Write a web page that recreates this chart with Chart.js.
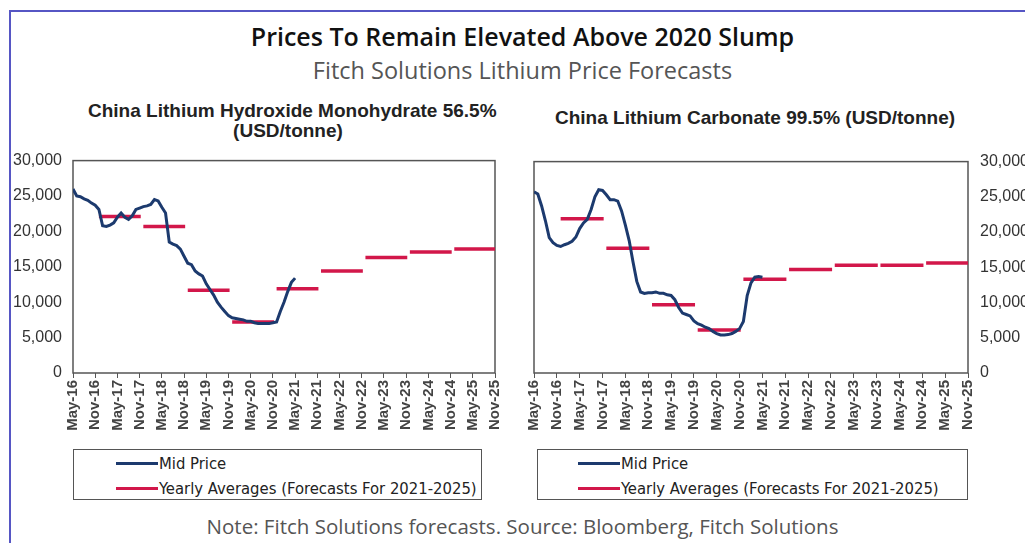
<!DOCTYPE html>
<html>
<head>
<meta charset="utf-8">
<script src="https://cdn.jsdelivr.net/npm/chart.js@4.4.0/dist/chart.umd.min.js"></script>
<style>
    body { margin: 0; width: 1025px; height: 543px; background: #fff; overflow: hidden; position: relative; font-family: 'Liberation Sans', Arial, sans-serif; }
    .frame { position: absolute; left: 9px; top: 10px; width: 1040px; height: 560px; border-left: 2px solid #5656c4; border-top: 2px solid #5656c4; }
    .title { position: absolute; left: 0; width: 1045px; top: 19px; line-height: 34px; text-align: center; font: 600 25px 'Open Sans', sans-serif; color: #111; }
    .subtitle { position: absolute; left: 0; width: 1045px; top: 54px; line-height: 32px; text-align: center; font: 400 23.5px 'Open Sans', sans-serif; color: #555; }
    .note { position: absolute; left: 0; width: 1045px; top: 512px; line-height: 30px; text-align: center; font: 400 20.5px 'Open Sans', sans-serif; color: #555; }
    .ctitle { position: absolute; text-align: center; font: bold 19px 'Liberation Sans', Arial, sans-serif; line-height: 20px; color: #222; white-space: nowrap; }
    canvas { position: absolute; }
    .legend { position: absolute; top: 449px; height: 51px; border: 1.5px solid #555; box-sizing: border-box; font: 16.5px 'Liberation Sans Narrow', 'DejaVu Sans Condensed', Arial, sans-serif; color: #222; }
    .legend .row { position: absolute; display: flex; align-items: center; height: 18px; white-space: nowrap; }
    .legend .swatch { width: 42px; height: 3px; margin-right: 1px; }
</style>
</head>
<body>
<div class="frame"></div>
<div class="title">Prices To Remain Elevated Above 2020 Slump</div>
<div class="subtitle">Fitch Solutions Lithium Price Forecasts</div>

<div class="ctitle" style="left:88px; width:400px; top:101px;">China Lithium Hydroxide Monohydrate 56.5%<br>(USD/tonne)</div>
<div class="ctitle" style="left:555px; width:400px; top:108px;">China Lithium Carbonate 99.5% (USD/tonne)</div>

<canvas id="hydroxideChart" style="left:0; top:140px;" width="515" height="305"></canvas>
<canvas id="carbonateChart" style="left:520px; top:140px;" width="505" height="305"></canvas>

<div class="legend" style="left:73px; width:409px;">
    <div class="row" style="left:42px; top:4px;"><div class="swatch" style="background:#1c3a6e"></div>Mid Price</div>
    <div class="row" style="left:42px; top:29px;"><div class="swatch" style="background:#d2174a"></div>Yearly Averages (Forecasts For 2021-2025)</div>
</div>
<div class="legend" style="left:537px; width:431px;">
    <div class="row" style="left:40px; top:4px;"><div class="swatch" style="background:#1c3a6e"></div>Mid Price</div>
    <div class="row" style="left:40px; top:29px;"><div class="swatch" style="background:#d2174a"></div>Yearly Averages (Forecasts For 2021-2025)</div>
</div>

<div class="note">Note: Fitch Solutions forecasts. Source: Bloomberg, Fitch Solutions</div>

<script>
/* Fitch lithium price charts - monthly index 0 = May-16 */

const TICK_LABELS = [
    'May-16', 'Nov-16', 'May-17', 'Nov-17', 'May-18', 'Nov-18', 'May-19', 'Nov-19', 'May-20', 'Nov-20',
    'May-21', 'Nov-21', 'May-22', 'Nov-22', 'May-23', 'Nov-23', 'May-24', 'Nov-24', 'May-25', 'Nov-25',
];

const YEARS = [2017, 2018, 2019, 2020, 2021, 2022, 2023, 2024, 2025];

// monthly mid price, May-16 .. May-21
const HYDROXIDE_MID = [
    26000, 25000, 24900, 24600, 24400, 24000, 23700, 23100, 20800, 20700,
    20900, 21200, 22000, 22600, 22000, 21700, 22200, 23100, 23300, 23500,
    23600, 23800, 24500, 24300, 23400, 22600, 18500, 18200, 18000, 17500,
    16500, 15500, 15300, 14400, 14000, 13700, 12600, 11800, 11000, 10000,
    9300, 8700, 8100, 7800, 7700, 7600, 7500, 7300, 7300, 7100,
    7000, 7000, 7000, 7000, 7100, 7200, 8700, 10000, 11500, 12800,
    13400,
];
const HYDROXIDE_AVG = [22100, 20700, 11700, 7200, 11900, 14400, 16300, 17100, 17500];

const CARBONATE_MID = [
    25700, 25400, 23700, 21600, 19200, 18500, 18100, 17950, 18200, 18400,
    18700, 19300, 20500, 21300, 21800, 23200, 25000, 26000, 25900, 25300,
    24600, 24600, 24400, 23000, 21000, 18800, 15800, 13000, 11500, 11300,
    11400, 11400, 11500, 11300, 11300, 11100, 11000, 10400, 9300, 8500,
    8300, 8100, 7400, 7000, 6800, 6500, 6300, 5900, 5600, 5400,
    5400, 5450, 5600, 5900, 6300, 7300, 11000, 12800, 13600, 13700,
    13600,
];
const CARBONATE_AVG = [21900, 17700, 9700, 6100, 13300, 14700, 15300, 15300, 15600];

const COLORS = {
    mid: '#1c3a6e',
    avg: '#d2174a',
    frame: '#555',
    tick: '#444',
};

function midPoints(values) {
    return values.map((v, i) => ({ x: i, y: v }));
}

// each yearly average runs from Dec of the prior year to Nov, broken between years
function avgPoints(values) {
    const pts = [];
    values.forEach((v, k) => {
        const start = (YEARS[k] - 2016) * 12 - 5;
        const end = start + 11.3;
        pts.push({ x: start, y: v }, { x: end, y: v }, { x: end, y: null });
    });
    return pts;
}

const plotFrame = {
    id: 'plotFrame',
    beforeDatasetsDraw(chart) {
        const { ctx, chartArea: a } = chart;
        ctx.save();
        ctx.strokeStyle = COLORS.frame;
        ctx.lineWidth = 1.5;
        ctx.strokeRect(a.left, a.top, a.right - a.left, a.bottom - a.top);
        ctx.restore();
    },
};

function createPriceChart(canvasId, mid, avg, side, padding, yWidth) {
    const ctx = document.getElementById(canvasId);
    if (!ctx) return null;

    return new Chart(ctx, {
        type: 'line',
        data: {
            datasets: [
                { label: 'Yearly Averages', data: avgPoints(avg), borderColor: COLORS.avg, borderWidth: 3.5, pointRadius: 0, spanGaps: false, order: 1 },
                { label: 'Mid Price', data: midPoints(mid), borderColor: COLORS.mid, borderWidth: 3, pointRadius: 0, tension: 0, order: 0 },
            ],
        },
        options: {
            responsive: false,
            animation: false,
            layout: { padding },
            plugins: { legend: { display: false }, tooltip: { enabled: false } },
            scales: {
                x: {
                    type: 'linear',
                    min: 0,
                    max: 114,
                    grid: { drawOnChartArea: false, drawTicks: true, tickLength: 5, color: COLORS.frame },
                    border: { display: false },
                    ticks: {
                        stepSize: 6,
                        autoSkip: false,
                        maxRotation: 90,
                        minRotation: 90,
                        padding: 2,
                        color: COLORS.tick,
                        font: { family: "'Liberation Sans', Arial", size: 15, weight: 'bold' },
                        callback: v => TICK_LABELS[v / 6],
                    },
                    afterFit: scale => { scale.height = 72; },
                },
                y: {
                    position: side,
                    min: 0,
                    max: 30000,
                    grid: { display: false, drawTicks: false },
                    border: { display: false },
                    ticks: {
                        stepSize: 5000,
                        padding: side === 'left' ? 11 : 12,
                        color: '#333',
                        font: { family: "'Liberation Sans', Arial", size: 16 },
                        callback: v => v.toLocaleString('en-US'),
                    },
                    afterFit: scale => { scale.width = yWidth; },
                },
            },
        },
        plugins: [plotFrame],
    });
}

createPriceChart('hydroxideChart', HYDROXIDE_MID, HYDROXIDE_AVG, 'left', { top: 12, right: 7, left: 0, bottom: 0 }, 73);
createPriceChart('carbonateChart', CARBONATE_MID, CARBONATE_AVG, 'right', { top: 12, right: 0, left: 14, bottom: 0 }, 57);
</script>
</body>
</html>
